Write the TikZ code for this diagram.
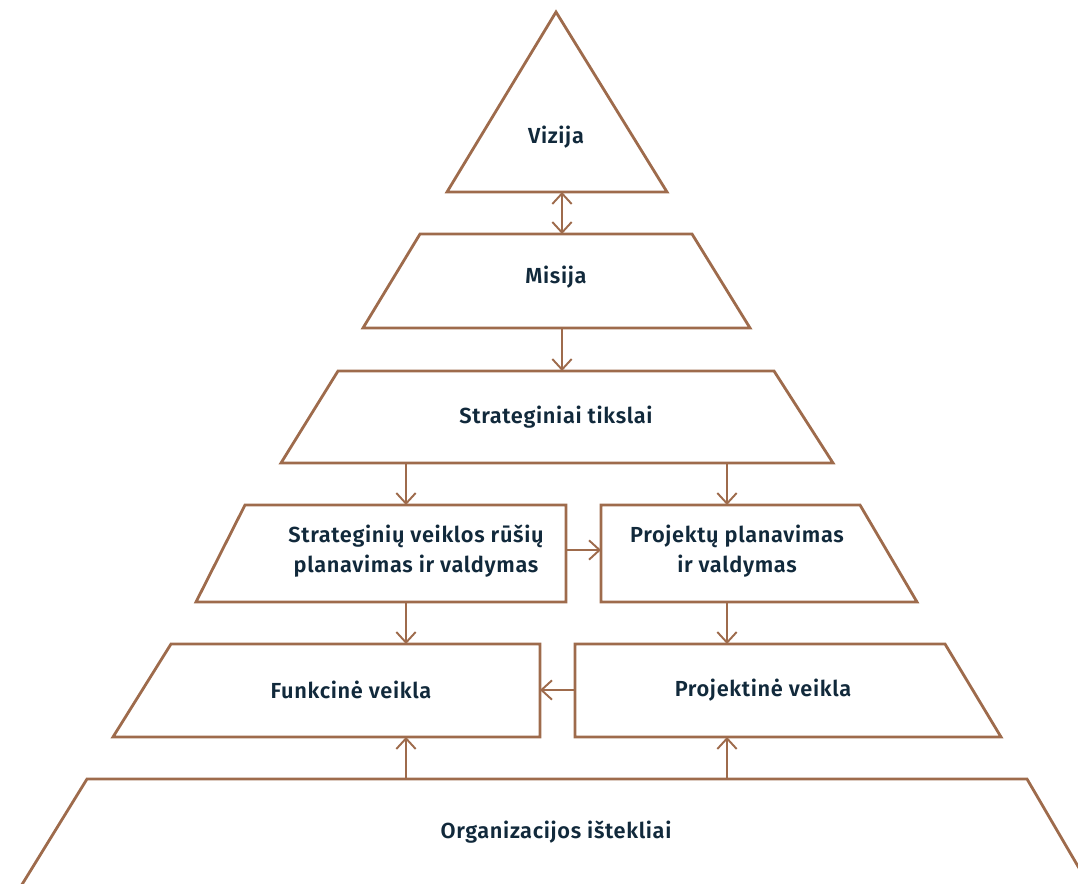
\documentclass[tikz,border=0pt]{standalone}
\usepackage{fontspec}
\setmainfont{Fira Sans}[BoldFont={Fira Sans SemiBold},LetterSpace=3]
\usetikzlibrary{arrows.meta}
\definecolor{brn}{HTML}{9E6B4C}
\definecolor{txt}{HTML}{11293B}
\begin{document}
\begin{tikzpicture}[x=0.02cm,y=-0.02cm,
  shp/.style={draw=brn,line width=1.6pt,line join=miter},
  lbl/.style={text=txt,font=\bfseries\fontsize{12.4}{16.8}\selectfont,align=center,inner sep=0pt},
  conn/.style={draw=brn,line width=1.1pt,-{Straight Barb[length=6pt,width=11pt]}},
  dconn/.style={draw=brn,line width=1.1pt,{Straight Barb[length=6pt,width=11pt]}-{Straight Barb[length=6pt,width=11pt]}}]
\useasboundingbox (0,0) rectangle (1078,884);
\clip (0,0) rectangle (1078,884);
% shapes
\draw[shp] (556,12) -- (667,192) -- (447,192) -- cycle;
\draw[shp] (420,234) -- (692,234) -- (750,328) -- (363,328) -- cycle;
\draw[shp] (338,371) -- (774,371) -- (833,463) -- (281,463) -- cycle;
\draw[shp] (245,505) -- (566,505) -- (566,602) -- (196,602) -- cycle;
\draw[shp] (601,505) -- (860,505) -- (917,602) -- (601,602) -- cycle;
\draw[shp] (171,644) -- (540,644) -- (540,737) -- (113,737) -- cycle;
\draw[shp] (575,644) -- (945,644) -- (1001,737) -- (575,737) -- cycle;
\draw[shp] (10,904) -- (87,779) -- (1027,779) -- (1100,904);
% labels
\node[lbl] (viz) at (556,137) {Vizija};
\node[lbl] (mis) at (556,277) {Misija};
\node[lbl] (tik) at (556,417) {Strateginiai tikslai};
\node[lbl] (svr) at (416,551) {Strateginių veiklos rūšių\\planavimas ir valdymas};
\node[lbl] (ppv) at (737,551) {Projektų planavimas\\ir valdymas};
\node[lbl] (fun) at (351,690) {Funkcinė veikla};
\node[lbl] (pro) at (763,690) {Projektinė veikla};
\node[lbl] (org) at (556,832) {Organizacijos ištekliai};
% connection points
\coordinate (vizB) at (562,192);
\coordinate (misT) at (562,234);
\coordinate (misB) at (562,328);
\coordinate (tikT) at (562,371);
\coordinate (tikBL) at (406,463);
\coordinate (tikBR) at (727,463);
\coordinate (svrT) at (406,505);
\coordinate (svrR) at (566,550);
\coordinate (svrB) at (406,602);
\coordinate (ppvT) at (727,505);
\coordinate (ppvL) at (601,550);
\coordinate (ppvB) at (727,602);
\coordinate (funT) at (406,644);
\coordinate (funR) at (540,690);
\coordinate (funB) at (406,737);
\coordinate (proT) at (727,644);
\coordinate (proL) at (575,690);
\coordinate (proB) at (727,737);
\coordinate (orgTL) at (406,779);
\coordinate (orgTR) at (727,779);
% connectors
\draw[dconn] (vizB) -- (misT);
\draw[conn] (misB) -- (tikT);
\draw[conn] (tikBL) -- (svrT);
\draw[conn] (tikBR) -- (ppvT);
\draw[conn] (svrR) -- (ppvL);
\draw[conn] (svrB) -- (funT);
\draw[conn] (ppvB) -- (proT);
\draw[conn] (proL) -- (funR);
\draw[conn] (orgTL) -- (funB);
\draw[conn] (orgTR) -- (proB);
\end{tikzpicture}
\end{document}
